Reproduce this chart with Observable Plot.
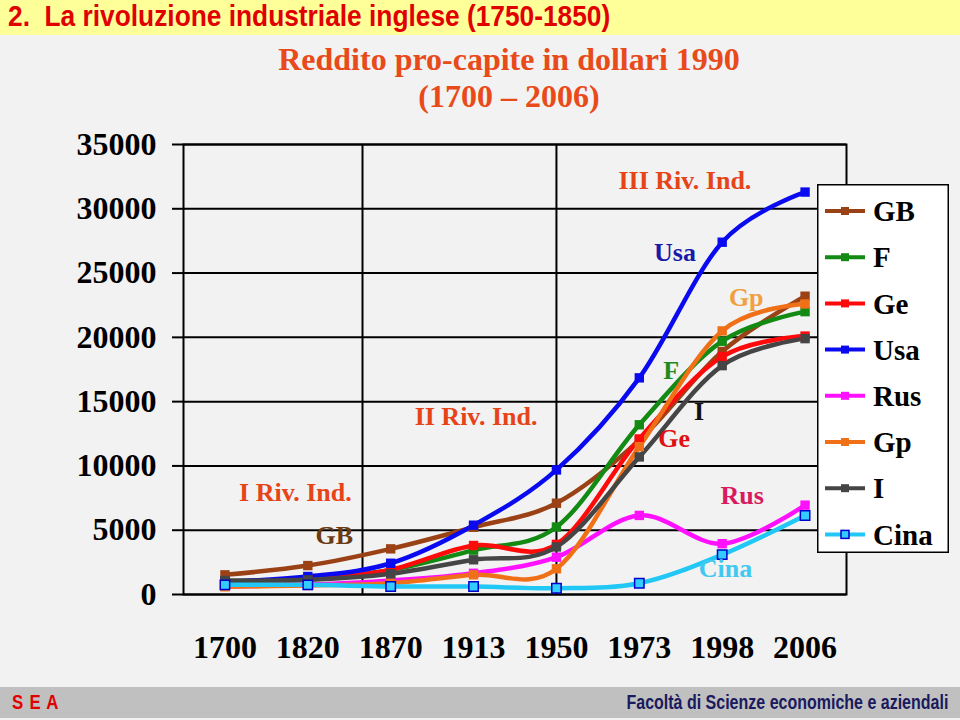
<!DOCTYPE html>
<html>
<head>
<meta charset="utf-8">
<script src="https://cdn.jsdelivr.net/npm/d3@7"></script>
<script src="https://cdn.jsdelivr.net/npm/@observablehq/plot@0.6"></script>
<style>
  html, body { margin: 0; padding: 0; }
  body { width: 960px; height: 720px; background: #f2f2f2; position: relative; overflow: hidden; }
  #header { position: absolute; left: 0; top: 0; width: 960px; height: 35px; background: #ffff99; }
  #header span { position: absolute; left: 8px; top: 0px; font-family: "Liberation Sans Narrow", "Arial Narrow", "Liberation Sans", sans-serif; font-weight: bold; font-size: 29px; color: #e00000; white-space: nowrap; transform: scaleX(0.907); transform-origin: left center; }
  #subtitle { position: absolute; left: 159px; width: 700px; top: 41px; text-align: center; font-family: "Liberation Serif", serif; font-weight: bold; font-size: 32px; line-height: 37px; color: #e84a1a; }
  #chart { position: absolute; left: 0; top: 120px; }
  #legend { position: absolute; left: 817px; top: 184px; }
  #footer { position: absolute; left: 0; top: 687px; width: 960px; height: 31px; background: #c0c0c0; }
  #footer .l { position: absolute; left: 12px; top: 3px; font-family: "Liberation Sans", Arial, sans-serif; font-weight: bold; font-size: 21px; color: #e00000; letter-spacing: 1px; transform: scaleX(0.8); transform-origin: left center; }
  #footer .r { position: absolute; right: 12px; top: 4px; font-family: "Liberation Sans Narrow", "Arial Narrow", "Liberation Sans", sans-serif; font-weight: bold; font-size: 20px; color: #1a1a5e; transform: scaleX(0.80); transform-origin: right center; white-space: nowrap; }
</style>
</head>
<body>
<div id="header"><span>2.&nbsp; La rivoluzione industriale inglese (1750-1850)</span></div>
<div id="subtitle">Reddito pro-capite in dollari 1990<br>(1700 – 2006)</div>
<div id="chart"></div>
<div id="legend"></div>
<div id="footer"><span class="l">S E A</span><span class="r">Facoltà di Scienze economiche e aziendali</span></div>
<script>
// ---- data ----
const years = ["1700", "1820", "1870", "1913", "1950", "1973", "1998", "2006"];
const seriesNames = ["GB", "F", "Ge", "Usa", "Rus", "Gp", "I", "Cina"];
const seriesColors = ["#9a4216", "#138a13", "#ff0a0a", "#0a0af0", "#ff10ff", "#f07018", "#454545", "#22c8f5"];
const GB   = [1530, 2250, 3550, 5230, 7100, 12000, 18900, 23200];
const F    = [1050, 1200, 1900, 3450, 5250, 13200, 19700, 22000];
const Ge   = [950, 1150, 1920, 3810, 3900, 12100, 18500, 20100];
const Usa  = [1000, 1400, 2430, 5390, 9690, 16850, 27400, 31300];
const Rus  = [650, 750, 1090, 1650, 2900, 6150, 3950, 6950];
const Gp   = [600, 700, 880, 1530, 2000, 11500, 20500, 22600];
const I    = [1090, 1140, 1610, 2700, 3700, 10700, 17800, 19900];
const Cina = [750, 750, 620, 620, 490, 880, 3100, 6150];
const seriesValues = [GB, F, Ge, Usa, Rus, Gp, I, Cina];
const yTicks = [0, 5000, 10000, 15000, 20000, 25000, 30000, 35000];
// period dividers (position on the year index axis)
const dividers = [1.66, 4];
// in-chart annotations: text, x (year index), y (value), colour
const noteText  = ["III Riv. Ind.", "Usa", "Gp", "F", "I", "Ge", "II Riv. Ind.", "I Riv. Ind.", "GB", "Rus", "Cina"];
const noteX     = [5.55, 5.43, 6.29, 5.385, 5.72, 5.42, 3.03, 0.85, 1.32, 6.24, 6.04];
const noteY     = [32200, 26600, 23100, 17400, 14230, 12130, 13840, 7930, 4590, 7700, 2020];
const noteColor = ["#e64418", "#1a1aa8", "#f0a040", "#1f8a1f", "#111111", "#e01010", "#e64418", "#e64418", "#6b3a10", "#d81b60", "#40c8f0"];

// ---- tables ----
const rows = [];
seriesNames.forEach((s, k) => seriesValues[k].forEach((v, i) => rows.push({s, i, v})));
const notes = noteText.map((t, k) => ({t, x: noteX[k], y: noteY[k], c: noteColor[k]}));

const chart = Plot.plot({
  width: 960,
  height: 560,
  marginLeft: 183,
  marginRight: 114,
  marginTop: 24,
  marginBottom: 86,
  style: {background: "transparent", fontFamily: "Liberation Serif, serif", fontWeight: "bold", color: "#000"},
  x: {type: "linear", domain: [-0.5, 7.5]},
  y: {domain: [0, 35000]},
  color: {domain: seriesNames, range: seriesColors},
  marks: [
    Plot.ruleY(yTicks, {stroke: "#000", strokeWidth: 2}),
    Plot.ruleX(dividers, {stroke: "#000", strokeWidth: 2}),
    Plot.frame({stroke: "#000", strokeWidth: 2}),
    Plot.axisY({ticks: yTicks, tickFormat: d => String(d), tickSize: 11, tickPadding: 16, fontSize: 32, stroke: "#000", strokeWidth: 2, label: null}),
    Plot.axisX({ticks: d3.range(years.length), tickFormat: i => years[i], tickSize: 0, tickPadding: 41, fontSize: 32, label: null}),
    Plot.line(rows, {x: "i", y: "v", z: "s", stroke: "s", strokeWidth: 4.5, curve: "cardinal", tension: 0}),
    Plot.dot(rows.filter(d => d.s !== "Cina"), {x: "i", y: "v", fill: "s", symbol: "square", r: 5.3}),
    Plot.dot(rows.filter(d => d.s === "Cina"), {x: "i", y: "v", fill: "#33ccff", stroke: "#0000cc", strokeWidth: 1.5, symbol: "square", r: 5.3}),
    Plot.text(notes, {x: "x", y: "y", text: "t", fill: "c", fontSize: 26, fontWeight: "bold", fontFamily: "Liberation Serif, serif"})
  ]
});
document.getElementById("chart").appendChild(chart);

// ---- legend ----
const lg = d3.select("#legend").append("svg").attr("width", 132).attr("height", 369);
lg.append("rect").attr("x", 0.75).attr("y", 0.75).attr("width", 130.5).attr("height", 367.5).attr("fill", "#fff").attr("stroke", "#000").attr("stroke-width", 1.5);
seriesNames.forEach((s, k) => {
  const cy = 27 + k * 46.2;
  const g = lg.append("g");
  g.append("line").attr("x1", 8).attr("x2", 48).attr("y1", cy).attr("y2", cy).attr("stroke", seriesColors[k]).attr("stroke-width", 4);
  if (s === "Cina") {
    g.append("rect").attr("x", 24).attr("y", cy - 4).attr("width", 8).attr("height", 8).attr("fill", "#33ccff").attr("stroke", "#0000cc").attr("stroke-width", 1.5);
  } else {
    g.append("rect").attr("x", 24).attr("y", cy - 4).attr("width", 8).attr("height", 8).attr("fill", seriesColors[k]);
  }
  g.append("text").attr("x", 56).attr("y", cy).attr("dy", "0.35em").text(s)
    .attr("font-family", "Liberation Serif, serif").attr("font-weight", "bold").attr("font-size", 29).attr("fill", "#000");
});
</script>
</body>
</html>
